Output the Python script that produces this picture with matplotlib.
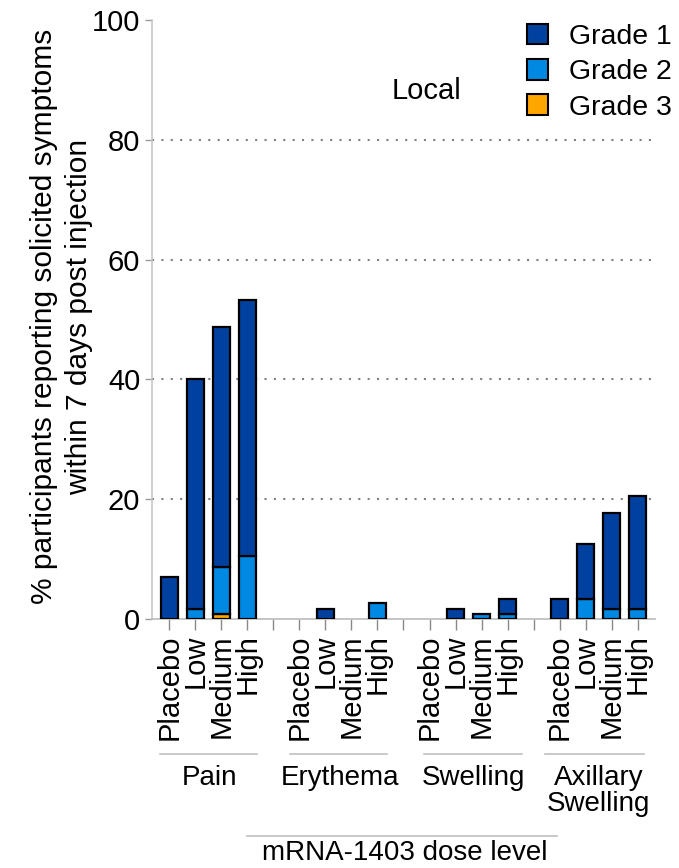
import numpy as np
import matplotlib
matplotlib.use("Agg")
import matplotlib.pyplot as plt
from matplotlib.patches import Patch

plt.rcParams['font.family'] = ['Liberation Sans', 'DejaVu Sans']

# --- data ---
doses = ["Placebo", "Low", "Medium", "High"]
symptoms = ["Pain", "Erythema", "Swelling", "Axillary\nSwelling"]
# values in % per symptom group (Placebo, Low, Medium, High)
grade1 = [7.0, 38.3, 40.1, 42.8,
          0.0, 1.7, 0.0, 0.0,
          0.0, 1.7, 0.0, 2.55,
          3.4, 9.2, 16.0, 18.8]
grade2 = [0.0, 1.7, 7.9, 10.5,
          0.0, 0.0, 0.0, 2.6,
          0.0, 0.0, 0.85, 0.85,
          0.0, 3.4, 1.7, 1.7]
grade3 = [0.0, 0.0, 0.8, 0.0,
          0.0, 0.0, 0.0, 0.0,
          0.0, 0.0, 0.0, 0.0,
          0.0, 0.0, 0.0, 0.0]

c1, c2, c3 = "#0041a0", "#0089e3", "#ffa500"

# positions: 4 bars per group, one empty slot between groups
pos = np.array([g * 5 + i for g in range(4) for i in range(4)])
g1 = np.array(grade1)
g2 = np.array(grade2)
g3 = np.array(grade3)

fig = plt.figure(figsize=(6.79, 8.68), dpi=100)
ax = fig.add_axes([152 / 679, 1 - 619 / 868, 503 / 679, 599 / 868])

w = 0.66
kw = dict(width=w, edgecolor="black", linewidth=1.6, zorder=3)
# only draw non-empty segments (zero bars would still show an edge)
for vals, bottom, col in [(g3, 0, c3), (g2, g3, c2), (g1, g3 + g2, c1)]:
    bottom = np.broadcast_to(bottom, vals.shape)
    m = vals > 0
    ax.bar(pos[m], vals[m], bottom=bottom[m], color=col, **kw)

handles = [Patch(facecolor=c, edgecolor="black", linewidth=1.5) for c in (c1, c2, c3)]
ax.legend(handles, ["Grade 1", "Grade 2", "Grade 3"], loc="upper right",
          bbox_to_anchor=(672 / 679, 1 - 24 / 868), bbox_transform=fig.transFigure,
          frameon=False, fontsize=20.5, handlelength=0.72, handleheight=0.72,
          handletextpad=0.75, labelspacing=0.32, borderpad=0, borderaxespad=0)

ax.set_ylim(0, 100)
ax.set_xlim(-0.67, 18.67)
ax.set_yticks([0, 20, 40, 60, 80, 100])
ax.tick_params(axis="y", labelsize=21, color="#999999", length=5, width=1)
ax.set_xticks(np.arange(19))
ax.set_xticklabels([doses[i % 5] if i % 5 < 4 else "" for i in range(19)],
                   rotation=90, fontsize=21)
ax.tick_params(axis="x", color="#888888", length=8, width=1, pad=3)

for y in [20, 40, 60, 80]:
    ax.axhline(y, color="#808080", linestyle=(0, (1, 3.5)), linewidth=1.5, zorder=1)

for s in ["top", "right"]:
    ax.spines[s].set_visible(False)
ax.spines["left"].set_color("#c8c8c8")
ax.spines["left"].set_linewidth(1.2)
ax.spines["bottom"].set_color("#bbbbbb")
ax.spines["bottom"].set_linewidth(1.2)

ax.set_ylabel("% participants reporting solicited symptoms\nwithin 7 days post injection",
              fontsize=21.5, linespacing=1.3)
ax.yaxis.set_label_coords(-0.118, 0.505)

ax.text(9.9, 88.2, "Local", fontsize=21, ha="center", va="center")

# group annotations under the axis
tr = ax.get_xaxis_transform()
line_spans = [(-0.38, 3.36), (4.65, 8.37), (9.77, 13.54), (14.45, 18.23)]
text_x = [1.53, 6.55, 11.7, 16.5]
for (a, b), tx, name in zip(line_spans, text_x, symptoms):
    ax.plot([a, b], [-0.2254, -0.2254], transform=tr, color="#c0c0c0",
            linewidth=1.2, clip_on=False)
    ax.text(tx, -0.243, name, transform=tr, fontsize=20, ha="center",
            va="top", linespacing=1.0)

ax.plot([3.0, 14.9], [-0.362, -0.362], transform=tr, color="#c0c0c0",
        linewidth=1.2, clip_on=False)
ax.text(9.05, -0.3907, "mRNA-1403 dose level", transform=tr, fontsize=20,
        ha="center", va="center")

fig.savefig("out.png", dpi=100)
